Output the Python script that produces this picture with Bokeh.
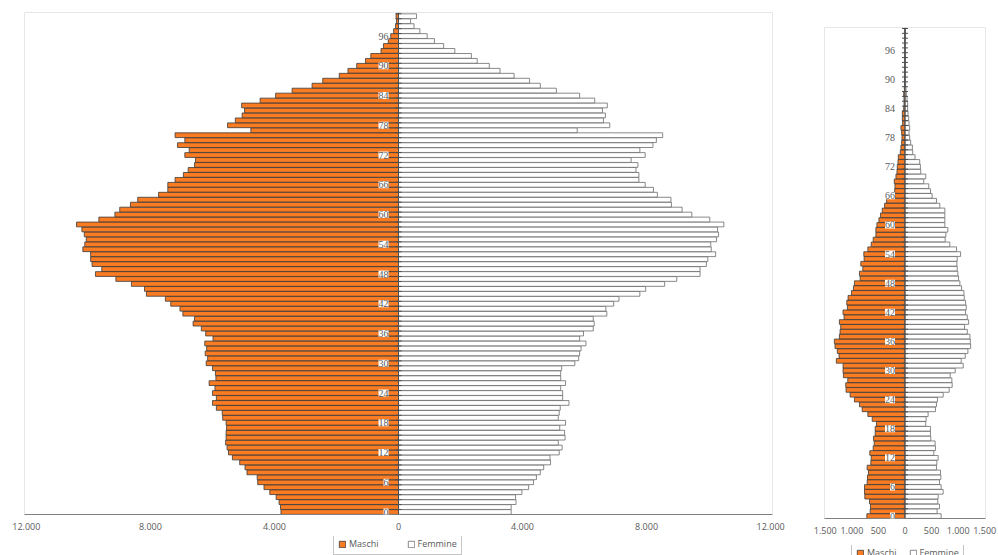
from bokeh.plotting import figure
from bokeh.models import (ColumnDataSource, FixedTicker, Legend, LegendItem,
                          LabelSet, Range1d, Span)
from bokeh.layouts import row, column
from bokeh.embed import file_html
from bokeh.resources import INLINE

# ---------------- data ----------------
ages = list(range(0, 101))

left_maschi = [3790, 3805, 3852, 3946, 4150, 4338, 4541, 4557, 4886, 4949,
               5121, 5356, 5481, 5528, 5575, 5559, 5559, 5544, 5559, 5669,
               5685, 5873, 5998, 5873, 5998, 5919, 6107, 5888, 5904, 5998,
               6201, 6154, 6233, 6186, 6248, 5982, 6217, 6358, 6624, 6577,
               6953, 7047, 7345, 7517, 8128, 8190, 8613, 9114, 9772, 9568,
               9881, 9928, 9928, 10179, 10116, 10069, 10132, 10210, 10383, 9662,
               9145, 8989, 8644, 8409, 7736, 7439, 7439, 7204, 6937, 6781,
               6577, 6546, 6890, 6749, 7125, 6890, 7204, 4761, 5512, 5262,
               5042, 4964, 5058, 4463, 3962, 3430, 2787, 2443, 1910, 1629,
               1347, 1065, 893, 564, 485, 330, 250, 157, 94, 63,
               78]

left_femmine = [3633, 3633, 3790, 3774, 3978, 4197, 4353, 4447, 4573, 4682,
                4902, 4886, 5183, 5277, 5152, 5371, 5356, 5199, 5387, 5152,
                5183, 5215, 5497, 5293, 5293, 5230, 5387, 5230, 5230, 5262,
                5685, 5810, 5841, 5888, 6045, 5841, 5966, 6280, 6311, 6280,
                6718, 6687, 6937, 7110, 7783, 7971, 8582, 8973, 9725, 9725,
                9928, 9975, 10226, 10085, 10069, 10257, 10320, 10289, 10492, 10038,
                9459, 9145, 8801, 8785, 8347, 8222, 7955, 7752, 7752, 7658,
                7720, 7501, 7955, 7783, 8206, 8315, 8519, 5763, 6812, 6609,
                6671, 6577, 6734, 6327, 5841, 5090, 4573, 4228, 3727, 3273,
                2928, 2537, 2350, 1817, 1456, 1160, 925, 690, 500, 390,
                580]

right_maschi = [718, 655, 649, 668, 756, 762, 762, 712, 706, 687,
                712, 643, 636, 662, 599, 580, 592, 561, 561, 536,
                617, 699, 806, 857, 951, 1033, 1109, 1115, 1077, 1159,
                1166, 1166, 1292, 1241, 1273, 1317, 1329, 1235, 1222, 1210,
                1235, 1147, 1166, 1084, 1096, 1071, 1008, 970, 951, 844,
                857, 794, 832, 769, 775, 699, 636, 599, 548, 548,
                529, 491, 460, 428, 384, 347, 195, 195, 189, 202,
                170, 151, 145, 132, 126, 88, 76, 63, 57, 63,
                76, 44, 50, 50, 25, 19, 19, 25, 12, 8,
                6, 5, 4, 3, 3, 2, 2, 1, 1, 1,
                1]

right_femmine = [680, 605, 649, 617, 624, 718, 680, 649, 674, 668,
                 592, 599, 624, 542, 573, 567, 485, 479, 479, 391,
                 397, 435, 573, 592, 611, 718, 832, 888, 882, 851,
                 945, 1096, 1058, 1134, 1184, 1235, 1229, 1222, 1172, 1121,
                 1197, 1172, 1140, 1153, 1140, 1115, 1109, 1065, 1033, 1008,
                 995, 983, 977, 983, 1046, 970, 844, 756, 769, 806,
                 750, 750, 750, 750, 655, 592, 510, 479, 447, 353,
                 391, 296, 290, 277, 189, 145, 139, 107, 88, 76,
                 88, 76, 69, 57, 50, 50, 38, 25, 18, 12,
                 9, 7, 6, 5, 4, 3, 3, 2, 2, 1,
                 1]

age_tick_labels = [0, 6, 12, 18, 24, 30, 36, 42, 48, 54, 60, 66, 72, 78, 84, 90, 96]

left_x_ticks = [-12000, -8000, -4000, 0, 4000, 8000, 12000]
left_x_labels = ["12.000", "8.000", "4.000", "0", "4.000", "8.000", "12.000"]
right_x_ticks = [-1500, -1000, -500, 0, 500, 1000, 1500]
right_x_labels = ["1.500", "1.000", "500", "0", "500", "1.000", "1.500"]

series_names = ["Maschi", "Femmine"]

# ---------------- style ----------------
ORANGE = "#F97B22"
MALE_LINE = "#3a3a3a"
FEMALE_LINE = "#6b6b6b"
TEXT = "#595959"
FONT = "Open Sans"


def make_source(males, females):
    return ColumnDataSource(dict(age=ages, m_neg=[-v for v in males], f=females))


def pyramid(width, height, xr, yr, borders, males, females, xticks, xlabels, tick_len):
    p = figure(width=width, height=height, x_range=Range1d(*xr), y_range=Range1d(*yr),
               output_backend="svg", toolbar_location=None, y_axis_location=None,
               title=None,
               min_border_left=borders[0], min_border_right=borders[1],
               min_border_top=borders[2], min_border_bottom=borders[3])
    p.grid.visible = False
    p.outline_line_color = "#e6e6e6"
    p.background_fill_color = "white"
    p.border_fill_color = "white"

    src = make_source(males, females)
    p.hbar(y="age", left="m_neg", right=0, height=0.96, source=src,
           fill_color=ORANGE, line_color=MALE_LINE, line_width=0.8)
    p.hbar(y="age", left=0, right="f", height=0.96, source=src,
           fill_color="white", line_color=FEMALE_LINE, line_width=0.8)

    # central category axis
    p.add_layout(Span(location=0, dimension="height", line_color="#4d4d4d", line_width=1))
    bounds = [a - 0.5 for a in ages] + [ages[-1] + 0.5]
    p.segment(x0=[-tick_len] * len(bounds), x1=[tick_len] * len(bounds),
              y0=bounds, y1=bounds, line_color="#4d4d4d", line_width=1)

    lab_src = ColumnDataSource(dict(y=age_tick_labels,
                                    x=[0] * len(age_tick_labels),
                                    t=[str(a) for a in age_tick_labels]))
    p.add_layout(LabelSet(x="x", y="y", text="t", source=lab_src, x_offset=-10,
                          text_align="right", text_baseline="middle",
                          text_font=FONT, text_font_size="10px", text_color=TEXT,
                          background_fill_color="white"))

    ax = p.xaxis[0]
    ax.ticker = FixedTicker(ticks=xticks)
    ax.major_label_overrides = {t: l for t, l in zip(xticks, xlabels)}
    ax.major_tick_line_color = None
    ax.minor_tick_line_color = None
    ax.major_tick_out = 0
    ax.major_tick_in = 0
    ax.major_label_standoff = 8
    ax.axis_line_color = "#808080"
    ax.major_label_text_font = FONT
    ax.major_label_text_font_size = "9px"
    ax.major_label_text_color = TEXT
    return p


def legend_fig(width, height, loc, spacing, males, females):
    # the legend sits in its own strip; the series are attached but lie outside the view
    f = figure(width=width, height=height, x_range=Range1d(1e7, 1e7 + 1),
               y_range=Range1d(1e7, 1e7 + 1),
               output_backend="svg", toolbar_location=None, title=None,
               x_axis_location=None, y_axis_location=None,
               min_border_left=0, min_border_right=0, min_border_top=0, min_border_bottom=0)
    f.grid.visible = False
    f.outline_line_color = None
    f.border_fill_color = "white"
    f.background_fill_color = "white"
    src = make_source(males, females)
    rm = f.hbar(y="age", left="m_neg", right=0, height=0.96, source=src,
                fill_color=ORANGE, line_color=MALE_LINE, line_width=0.8)
    rf = f.hbar(y="age", left=0, right="f", height=0.96, source=src,
                fill_color="white", line_color=FEMALE_LINE, line_width=0.8)
    leg = Legend(items=[LegendItem(label=series_names[0], renderers=[rm], index=0),
                        LegendItem(label=series_names[1], renderers=[rf], index=0)],
                 orientation="horizontal", location=loc, margin=0,
                 padding=4, spacing=spacing, label_standoff=3,
                 glyph_width=8, glyph_height=8, label_height=11,
                 label_text_font=FONT, label_text_font_size="9px",
                 label_text_color=TEXT, border_line_color="#8c8c8c",
                 border_line_width=1, background_fill_color="white",
                 background_fill_alpha=1.0)
    f.add_layout(leg, "center")
    return f


p_left = pyramid(800, 536, (-12060, 12060), (-0.5, 100.75), (24, 28, 12, 22),
                 left_maschi, left_femmine, left_x_ticks, left_x_labels, 97)
leg_left = legend_fig(800, 19, (309, 0), 28, left_maschi, left_femmine)

p_right = pyramid(198, 545, (-1515, 1515), (-0.5, 100.7), (24, 13, 27, 27),
                  right_maschi, right_femmine, right_x_ticks, right_x_labels, 56)
leg_right = legend_fig(198, 10, (27, -9), 12, right_maschi, right_femmine)

layout = row(column(p_left, leg_left), column(p_right, leg_right))
open("out.html", "w").write(file_html(layout, INLINE))
